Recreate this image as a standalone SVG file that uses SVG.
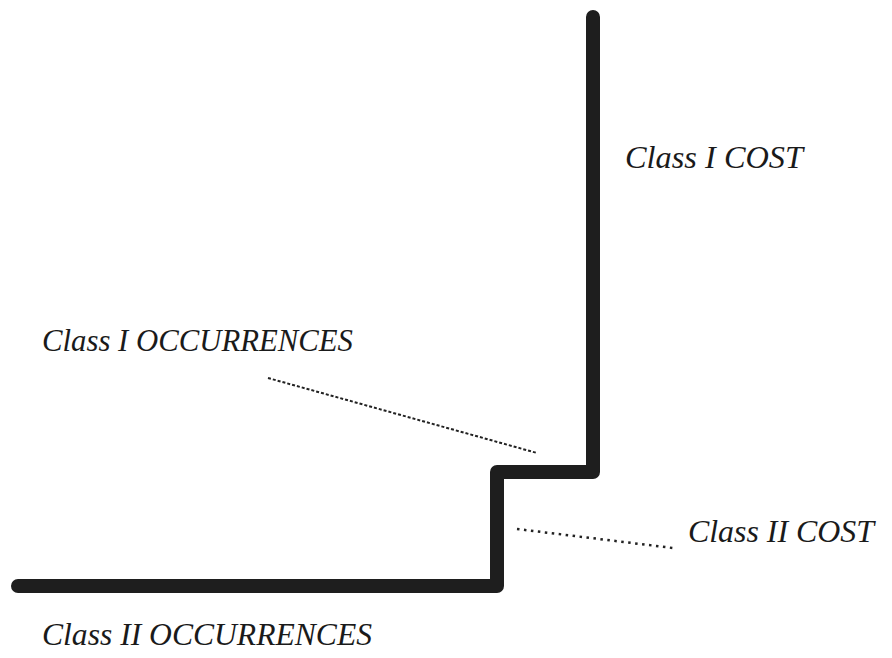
<svg xmlns="http://www.w3.org/2000/svg" width="892" height="658" viewBox="0 0 892 658">
<style>
.lbl{font-family:"Liberation Serif","Times New Roman",serif;font-style:italic;font-size:32px;fill:#1a1a1a}
.curve{fill:none;stroke:#1e1e1e;stroke-width:14;stroke-linecap:round;stroke-linejoin:round}
.lead1{stroke:#222;stroke-width:2;stroke-dasharray:3 2;fill:none}
.lead2{stroke:#222;stroke-width:2.5;stroke-dasharray:2.5 4.5;fill:none}
</style>
<rect width="892" height="658" fill="#fff"/>
<g id="connectors">
<path class="curve" d="M593,17 L593,472 L497,472 L497,586 L18,586"/>
<line class="lead1" x1="268" y1="378" x2="537" y2="453"/>
<line class="lead2" x1="517" y1="529" x2="673" y2="548"/>
</g>
<g id="class1cost"><text class="lbl" x="625" y="168" textLength="178" lengthAdjust="spacingAndGlyphs">Class I COST</text></g>
<g id="class1occ"><text class="lbl" x="42" y="351" textLength="311" lengthAdjust="spacingAndGlyphs">Class I OCCURRENCES</text></g>
<g id="class2cost"><text class="lbl" x="688" y="542" textLength="186" lengthAdjust="spacingAndGlyphs">Class II COST</text></g>
<g id="class2occ"><text class="lbl" x="42" y="645" textLength="330" lengthAdjust="spacingAndGlyphs">Class II OCCURRENCES</text></g>
</svg>
